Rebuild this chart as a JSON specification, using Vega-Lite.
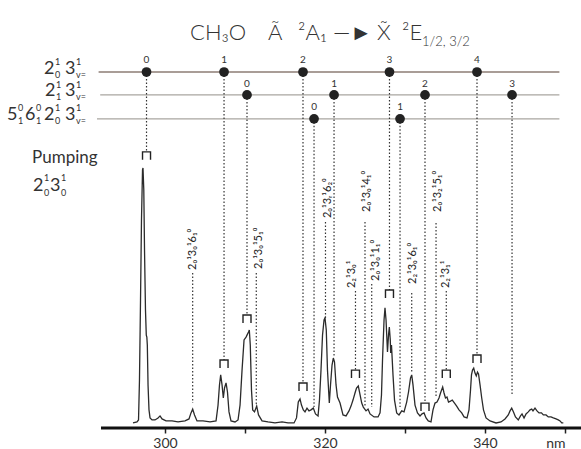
{
  "$schema": "https://vega.github.io/schema/vega-lite/v6.json",
  "width": 581,
  "height": 428,
  "autosize": {"type": "none"},
  "padding": {"left": 0, "top": 0, "right": 0, "bottom": 21},
  "background": "white",
  "config": {"view": {"stroke": null}, "font": "Lato", "text": {"font": "Lato"}},
  "datasets": {
    "spec": [
      {"wl": 296.0, "I": -1.0}, {"wl": 296.5, "I": -0.6}, {"wl": 296.69, "I": 0.2}, {"wl": 296.81, "I": 16.1},
      {"wl": 296.94, "I": 47.8}, {"wl": 297.06, "I": 79.6}, {"wl": 297.19, "I": 99.5}, {"wl": 297.25, "I": 100.3},
      {"wl": 297.35, "I": 91.5}, {"wl": 297.44, "I": 67.7}, {"wl": 297.56, "I": 43.9}, {"wl": 297.66, "I": 33.9},
      {"wl": 297.73, "I": 33.1}, {"wl": 297.79, "I": 30.0}, {"wl": 297.88, "I": 14.1}, {"wl": 298.0, "I": 4.2},
      {"wl": 298.13, "I": 1.0}, {"wl": 298.38, "I": 0.2}, {"wl": 298.75, "I": 0.2}, {"wl": 299.13, "I": 1.0},
      {"wl": 299.38, "I": 1.8}, {"wl": 299.63, "I": 0.6}, {"wl": 300.13, "I": -0.2}, {"wl": 300.88, "I": -0.2},
      {"wl": 301.63, "I": -0.6}, {"wl": 302.5, "I": -0.2}, {"wl": 303.0, "I": 0.6}, {"wl": 303.25, "I": 3.0},
      {"wl": 303.46, "I": 4.5}, {"wl": 303.69, "I": 2.2}, {"wl": 304.0, "I": -0.2}, {"wl": 304.75, "I": -0.2},
      {"wl": 305.63, "I": -0.6}, {"wl": 306.38, "I": -0.2}, {"wl": 306.63, "I": 6.1}, {"wl": 306.81, "I": 14.1},
      {"wl": 306.96, "I": 18.1}, {"wl": 307.13, "I": 14.1}, {"wl": 307.29, "I": 8.9}, {"wl": 307.44, "I": 12.9},
      {"wl": 307.63, "I": 14.9}, {"wl": 307.81, "I": 11.3}, {"wl": 308.0, "I": 3.4}, {"wl": 308.25, "I": -0.2},
      {"wl": 308.75, "I": -0.6}, {"wl": 309.13, "I": 0.2}, {"wl": 309.38, "I": 6.1}, {"wl": 309.63, "I": 20.0},
      {"wl": 309.88, "I": 32.0}, {"wl": 310.13, "I": 33.1}, {"wl": 310.25, "I": 33.9}, {"wl": 310.44, "I": 35.1},
      {"wl": 310.54, "I": 35.9}, {"wl": 310.66, "I": 30.0}, {"wl": 310.81, "I": 12.1}, {"wl": 310.96, "I": 4.2},
      {"wl": 311.19, "I": 3.4}, {"wl": 311.46, "I": 5.7}, {"wl": 311.69, "I": 2.2}, {"wl": 312.13, "I": -0.2},
      {"wl": 312.88, "I": -0.6}, {"wl": 313.75, "I": -1.0}, {"wl": 314.63, "I": -0.6}, {"wl": 315.38, "I": -1.0},
      {"wl": 316.13, "I": -1.0}, {"wl": 316.44, "I": 1.0}, {"wl": 316.66, "I": 7.3}, {"wl": 316.88, "I": 8.5},
      {"wl": 317.06, "I": 6.1}, {"wl": 317.29, "I": 4.2}, {"wl": 317.5, "I": 3.4}, {"wl": 317.75, "I": 4.9},
      {"wl": 318.0, "I": 3.8}, {"wl": 318.25, "I": 4.2}, {"wl": 318.54, "I": 4.9}, {"wl": 318.81, "I": 2.6},
      {"wl": 319.13, "I": 1.8}, {"wl": 319.31, "I": 8.1}, {"wl": 319.5, "I": 20.0}, {"wl": 319.69, "I": 33.9},
      {"wl": 319.88, "I": 39.9}, {"wl": 320.0, "I": 40.7}, {"wl": 320.16, "I": 35.9}, {"wl": 320.31, "I": 20.0},
      {"wl": 320.54, "I": 6.9}, {"wl": 320.69, "I": 14.1}, {"wl": 320.88, "I": 22.0}, {"wl": 321.04, "I": 24.8},
      {"wl": 321.19, "I": 23.2}, {"wl": 321.38, "I": 14.1}, {"wl": 321.56, "I": 9.3}, {"wl": 321.88, "I": 6.9},
      {"wl": 322.25, "I": 2.2}, {"wl": 322.63, "I": 1.8}, {"wl": 323.0, "I": 3.8}, {"wl": 323.25, "I": 5.7},
      {"wl": 323.5, "I": 8.1}, {"wl": 323.75, "I": 10.9}, {"wl": 323.94, "I": 12.9}, {"wl": 324.16, "I": 13.7},
      {"wl": 324.31, "I": 11.3}, {"wl": 324.59, "I": 6.9}, {"wl": 324.79, "I": 5.3}, {"wl": 325.13, "I": 3.8},
      {"wl": 325.38, "I": 4.5}, {"wl": 325.63, "I": 2.6}, {"wl": 326.13, "I": 1.4}, {"wl": 326.63, "I": 1.4},
      {"wl": 326.88, "I": 3.0}, {"wl": 327.06, "I": 10.1}, {"wl": 327.19, "I": 24.0}, {"wl": 327.38, "I": 39.9},
      {"wl": 327.5, "I": 44.7}, {"wl": 327.63, "I": 39.9}, {"wl": 327.81, "I": 27.2}, {"wl": 327.94, "I": 33.9},
      {"wl": 328.04, "I": 37.1}, {"wl": 328.16, "I": 32.0}, {"wl": 328.21, "I": 26.8}, {"wl": 328.31, "I": 30.0},
      {"wl": 328.5, "I": 18.1}, {"wl": 328.69, "I": 8.1}, {"wl": 328.96, "I": 3.0}, {"wl": 329.25, "I": 2.2},
      {"wl": 329.59, "I": 3.8}, {"wl": 329.88, "I": 3.4}, {"wl": 330.21, "I": 7.3}, {"wl": 330.44, "I": 11.3},
      {"wl": 330.69, "I": 16.9}, {"wl": 330.84, "I": 18.1}, {"wl": 331.0, "I": 14.1}, {"wl": 331.25, "I": 6.1},
      {"wl": 331.56, "I": 3.0}, {"wl": 331.88, "I": 1.8}, {"wl": 332.13, "I": 2.6}, {"wl": 332.38, "I": 3.0},
      {"wl": 332.63, "I": 1.0}, {"wl": 332.91, "I": -0.2}, {"wl": 333.25, "I": -0.6}, {"wl": 333.5, "I": 4.2},
      {"wl": 333.75, "I": 6.9}, {"wl": 334.0, "I": 7.3}, {"wl": 334.25, "I": 8.9}, {"wl": 334.44, "I": 10.9},
      {"wl": 334.71, "I": 13.3}, {"wl": 334.88, "I": 10.9}, {"wl": 335.06, "I": 8.9}, {"wl": 335.25, "I": 9.3},
      {"wl": 335.44, "I": 7.3}, {"wl": 335.69, "I": 7.7}, {"wl": 335.91, "I": 8.1}, {"wl": 336.19, "I": 6.9},
      {"wl": 336.46, "I": 5.7}, {"wl": 336.75, "I": 4.2}, {"wl": 337.09, "I": 3.0}, {"wl": 337.38, "I": 1.4},
      {"wl": 337.75, "I": 1.0}, {"wl": 338.0, "I": 4.2}, {"wl": 338.19, "I": 12.1}, {"wl": 338.31, "I": 18.1},
      {"wl": 338.44, "I": 20.0}, {"wl": 338.59, "I": 20.8}, {"wl": 338.75, "I": 18.8}, {"wl": 338.91, "I": 17.7},
      {"wl": 339.06, "I": 19.2}, {"wl": 339.19, "I": 18.5}, {"wl": 339.38, "I": 14.1}, {"wl": 339.59, "I": 8.9},
      {"wl": 339.81, "I": 4.2}, {"wl": 340.13, "I": 1.0}, {"wl": 340.63, "I": -0.2}, {"wl": 341.38, "I": -1.0},
      {"wl": 342.0, "I": -0.6}, {"wl": 342.5, "I": 0.6}, {"wl": 342.91, "I": 2.2}, {"wl": 343.13, "I": 3.8},
      {"wl": 343.34, "I": 4.9}, {"wl": 343.56, "I": 3.4}, {"wl": 343.81, "I": 1.4}, {"wl": 344.16, "I": 0.2},
      {"wl": 344.44, "I": 1.8}, {"wl": 344.63, "I": 2.6}, {"wl": 344.88, "I": 1.0}, {"wl": 345.13, "I": 2.6},
      {"wl": 345.41, "I": 3.4}, {"wl": 345.63, "I": 4.2}, {"wl": 345.84, "I": 4.5}, {"wl": 346.0, "I": 3.8},
      {"wl": 346.25, "I": 4.9}, {"wl": 346.5, "I": 3.8}, {"wl": 346.75, "I": 3.0}, {"wl": 347.06, "I": 3.0},
      {"wl": 347.29, "I": 2.2}, {"wl": 347.63, "I": 2.2}, {"wl": 347.91, "I": 1.4}, {"wl": 348.25, "I": 1.4},
      {"wl": 348.54, "I": 1.0}, {"wl": 348.88, "I": 0.6}, {"wl": 349.16, "I": 0.2}, {"wl": 349.38, "I": -0.2},
      {"wl": 349.59, "I": -1.0}, {"wl": 349.79, "I": -1.0}
    ],
    "levels": [
      {"level": "L1", "y": 138.4, "x1": 291.7, "x2": 349.3},
      {"level": "L2", "y": 129.3, "x1": 291.9, "x2": 349.3},
      {"level": "L3", "y": 119.8, "x1": 291.5, "x2": 349.3}
    ],
    "dots": [
      {"x": 297.69, "y": 138.4, "y2": 106.6, "n": "0", "ly": 143.2},
      {"x": 307.38, "y": 138.4, "y2": 24.0, "n": "1", "ly": 143.2},
      {"x": 317.25, "y": 138.4, "y2": 14.9, "n": "2", "ly": 143.2},
      {"x": 328.06, "y": 138.4, "y2": 51.8, "n": "3", "ly": 143.2},
      {"x": 339.0, "y": 138.4, "y2": 26.0, "n": "4", "ly": 143.2},
      {"x": 310.25, "y": 129.3, "y2": 41.9, "n": "0", "ly": 133.8},
      {"x": 321.13, "y": 129.3, "y2": 25.2, "n": "1", "ly": 133.8},
      {"x": 332.5, "y": 129.3, "y2": 6.9, "n": "2", "ly": 133.8},
      {"x": 343.38, "y": 129.3, "y2": 10.1, "n": "3", "ly": 133.8},
      {"x": 318.63, "y": 119.8, "y2": 5.3, "n": "0", "ly": 124.5},
      {"x": 329.38, "y": 119.8, "y2": 5.3, "n": "1", "ly": 124.5}
    ],
    "brackets": [
      {"x": 297.69, "y": 105.1}, {"x": 307.38, "y": 22.4}, {"x": 317.25, "y": 13.3},
      {"x": 328.06, "y": 50.2}, {"x": 339.0, "y": 24.4}, {"x": 310.25, "y": 40.3},
      {"x": 332.5, "y": 5.3}, {"x": 323.81, "y": 18.4}, {"x": 335.16, "y": 18.4}
    ],
    "bands": [
      {"label": "2₀¹3₀¹6₁⁰", "tx": 303.5, "ty": 59.8, "lx": 303.46, "ly1": 58.6, "ly2": 6.9},
      {"label": "2₀¹3₀¹5₁⁰", "tx": 311.75, "ty": 60.2, "lx": 311.41, "ly1": 58.6, "ly2": 5.7},
      {"label": "2₀¹3ᵣ¹6₂⁰", "tx": 320.38, "ty": 80.4, "lx": 320.06, "ly1": 78.8, "ly2": 40.7},
      {"label": "2₂¹3₀¹", "tx": 323.38, "ty": 52.6, "lx": 323.81, "ly1": 51.4, "ly2": 20.0},
      {"label": "2₀¹3₀¹4₁⁰", "tx": 325.25, "ty": 82.8, "lx": 325.0, "ly1": 78.8, "ly2": 5.3},
      {"label": "2₀¹3₀¹1₁⁰", "tx": 326.38, "ty": 55.4, "lx": 325.84, "ly1": 54.2, "ly2": 5.3},
      {"label": "2₂¹3₀¹6₁⁰", "tx": 331.0, "ty": 54.2, "lx": 330.84, "ly1": 50.6, "ly2": 19.2},
      {"label": "2₀¹3₂¹5₁⁰", "tx": 334.13, "ty": 82.8, "lx": 333.88, "ly1": 78.4, "ly2": 9.3},
      {"label": "2₂¹3₁¹", "tx": 335.13, "ty": 52.6, "lx": 335.16, "ly1": 51.4, "ly2": 20.0}
    ],
    "lbase": [
      {"x": 284.88, "y": 139.6, "t": "2"}, {"x": 287.5, "y": 139.6, "t": "3"},
      {"x": 285.0, "y": 130.7, "t": "2"}, {"x": 287.5, "y": 130.7, "t": "3"},
      {"x": 280.25, "y": 121.3, "t": "5"}, {"x": 282.5, "y": 121.3, "t": "6"},
      {"x": 284.88, "y": 121.3, "t": "2"}, {"x": 287.5, "y": 121.3, "t": "3"},
      {"x": 283.5, "y": 93.1, "t": "2"}, {"x": 285.63, "y": 93.1, "t": "3"}
    ],
    "lsup": [
      {"x": 286.25, "y": 142.4, "t": "1"}, {"x": 288.88, "y": 142.4, "t": "1"},
      {"x": 286.38, "y": 133.4, "t": "1"}, {"x": 288.88, "y": 133.4, "t": "1"},
      {"x": 281.63, "y": 124.1, "t": "0"}, {"x": 283.88, "y": 124.1, "t": "0"},
      {"x": 286.25, "y": 124.1, "t": "1"}, {"x": 288.88, "y": 124.1, "t": "1"},
      {"x": 284.88, "y": 96.3, "t": "1"}, {"x": 287.0, "y": 96.3, "t": "1"}
    ],
    "lsub": [
      {"x": 286.25, "y": 137.2, "t": "0"}, {"x": 288.88, "y": 137.2, "t": "v="},
      {"x": 286.38, "y": 128.3, "t": "1"}, {"x": 288.88, "y": 128.3, "t": "v="},
      {"x": 281.63, "y": 119.0, "t": "1"}, {"x": 283.88, "y": 119.0, "t": "1"},
      {"x": 286.25, "y": 119.0, "t": "0"}, {"x": 288.88, "y": 119.0, "t": "v="},
      {"x": 284.88, "y": 90.3, "t": "0"}, {"x": 287.0, "y": 90.3, "t": "0"}
    ],
    "pump": [
      {"x": 283.38, "y": 104.2, "t": "Pumping"}
    ],
    "title": [
      {"x": 303.13, "y": 151.1, "t": "CH₃O"},
      {"x": 312.88, "y": 151.1, "t": "Ã"},
      {"x": 316.63, "y": 151.1, "t": "²A₁"},
      {"x": 321.0, "y": 151.1, "t": "—►"},
      {"x": 326.5, "y": 151.1, "t": "X̃"},
      {"x": 329.63, "y": 151.1, "t": "²E"}
    ],
    "titlesub": [
      {"x": 332.13, "y": 148.7, "t": "1/2, 3/2"}
    ],
    "axisline": [
      {"x1": 292, "x2": 352, "y": -3}
    ]
  },
  "layer": [
    {
      "data": {"name": "spec"},
      "mark": {"type": "line", "color": "#2b2b2b", "strokeWidth": 1.3, "interpolate": "linear"},
      "encoding": {
        "x": {"field": "wl", "type": "quantitative", "title": null,
          "scale": {"domain": [279.375, 352], "nice": false, "zero": false},
          "axis": {"title": null, "domain": false, "grid": false, "values": [300, 310, 320, 330, 340, 350],
            "tickSize": 5, "tickWidth": 1.5, "tickColor": "#222", "labelFontSize": 14, "labelColor": "#333",
            "labelFont": "Lato", "labelPadding": 3,
            "labelAlign": {"expr": "datum.value == 350 ? 'right' : 'center'"},
            "labelExpr": "datum.value == 350 ? 'nm' : (datum.value % 20 == 0 ? datum.label : '')"}},
        "y": {"field": "I", "type": "quantitative", "scale": {"domain": [-3, 167], "nice": false, "zero": false}, "axis": null}
      }
    },
    {
      "data": {"name": "levels"},
      "mark": {"type": "rule", "strokeWidth": 1.4},
      "encoding": {
        "x": {"field": "x1", "type": "quantitative", "title": null},
        "x2": {"field": "x2"},
        "y": {"field": "y", "type": "quantitative", "axis": null},
        "color": {"field": "level", "type": "nominal", "legend": null,
          "scale": {"domain": ["L1", "L2", "L3"], "range": ["#8c7c74", "#a9a6a0", "#a9a6a0"]}}
      }
    },
    {
      "data": {"name": "dots"},
      "mark": {"type": "rule", "strokeWidth": 1.2, "strokeDash": [1.5, 2], "color": "#333"},
      "encoding": {
        "x": {"field": "x", "type": "quantitative", "title": null},
        "y": {"field": "y", "type": "quantitative", "axis": null},
        "y2": {"field": "y2"}
      }
    },
    {
      "data": {"name": "bands"},
      "mark": {"type": "rule", "strokeWidth": 1.2, "strokeDash": [1.5, 2], "color": "#333"},
      "encoding": {
        "x": {"field": "lx", "type": "quantitative", "title": null},
        "y": {"field": "ly1", "type": "quantitative", "axis": null},
        "y2": {"field": "ly2"}
      }
    },
    {
      "data": {"name": "axisline"},
      "mark": {"type": "rule", "strokeWidth": 3, "color": "#111"},
      "encoding": {
        "x": {"field": "x1", "type": "quantitative", "title": null},
        "x2": {"field": "x2"},
        "y": {"field": "y", "type": "quantitative", "axis": null}
      }
    },
    {
      "data": {"name": "dots"},
      "mark": {"type": "point", "filled": true, "size": 95, "color": "#222", "opacity": 1},
      "encoding": {
        "x": {"field": "x", "type": "quantitative", "title": null},
        "y": {"field": "y", "type": "quantitative", "axis": null}
      }
    },
    {
      "data": {"name": "brackets"},
      "mark": {"type": "point", "shape": "M-1,1V-1H1V1", "filled": false, "size": 64, "color": "#222", "strokeWidth": 1.4, "opacity": 1},
      "encoding": {
        "x": {"field": "x", "type": "quantitative", "title": null},
        "y": {"field": "y", "type": "quantitative", "axis": null}
      }
    },
    {
      "data": {"name": "dots"},
      "mark": {"type": "text", "fontSize": 10, "color": "#333", "baseline": "middle", "align": "center"},
      "encoding": {
        "x": {"field": "x", "type": "quantitative", "title": null},
        "y": {"field": "ly", "type": "quantitative", "axis": null},
        "text": {"field": "n"}
      }
    },
    {
      "data": {"name": "bands"},
      "mark": {"type": "text", "fontSize": 11, "color": "#222", "baseline": "middle", "align": "left", "angle": 270},
      "encoding": {
        "x": {"field": "tx", "type": "quantitative", "title": null},
        "y": {"field": "ty", "type": "quantitative", "axis": null},
        "text": {"field": "label"}
      }
    },
    {
      "data": {"name": "lbase"},
      "mark": {"type": "text", "fontSize": 18, "color": "#333", "baseline": "middle", "align": "left"},
      "encoding": {
        "x": {"field": "x", "type": "quantitative", "title": null},
        "y": {"field": "y", "type": "quantitative", "axis": null},
        "text": {"field": "t"}
      }
    },
    {
      "data": {"name": "lsup"},
      "mark": {"type": "text", "fontSize": 9, "color": "#333", "baseline": "middle", "align": "left"},
      "encoding": {
        "x": {"field": "x", "type": "quantitative", "title": null},
        "y": {"field": "y", "type": "quantitative", "axis": null},
        "text": {"field": "t"}
      }
    },
    {
      "data": {"name": "lsub"},
      "mark": {"type": "text", "fontSize": 9, "color": "#333", "baseline": "middle", "align": "left"},
      "encoding": {
        "x": {"field": "x", "type": "quantitative", "title": null},
        "y": {"field": "y", "type": "quantitative", "axis": null},
        "text": {"field": "t"}
      }
    },
    {
      "data": {"name": "pump"},
      "mark": {"type": "text", "fontSize": 17, "color": "#333", "baseline": "middle", "align": "left"},
      "encoding": {
        "x": {"field": "x", "type": "quantitative", "title": null},
        "y": {"field": "y", "type": "quantitative", "axis": null},
        "text": {"field": "t"}
      }
    },
    {
      "data": {"name": "title"},
      "mark": {"type": "text", "fontSize": 22, "fontWeight": 300, "color": "#333", "baseline": "alphabetic", "align": "left"},
      "encoding": {
        "x": {"field": "x", "type": "quantitative", "title": null},
        "y": {"field": "y", "type": "quantitative", "axis": null},
        "text": {"field": "t"}
      }
    },
    {
      "data": {"name": "titlesub"},
      "mark": {"type": "text", "fontSize": 13, "fontWeight": 300, "color": "#333", "baseline": "alphabetic", "align": "left"},
      "encoding": {
        "x": {"field": "x", "type": "quantitative", "title": null},
        "y": {"field": "y", "type": "quantitative", "axis": null},
        "text": {"field": "t"}
      }
    }
  ]
}
